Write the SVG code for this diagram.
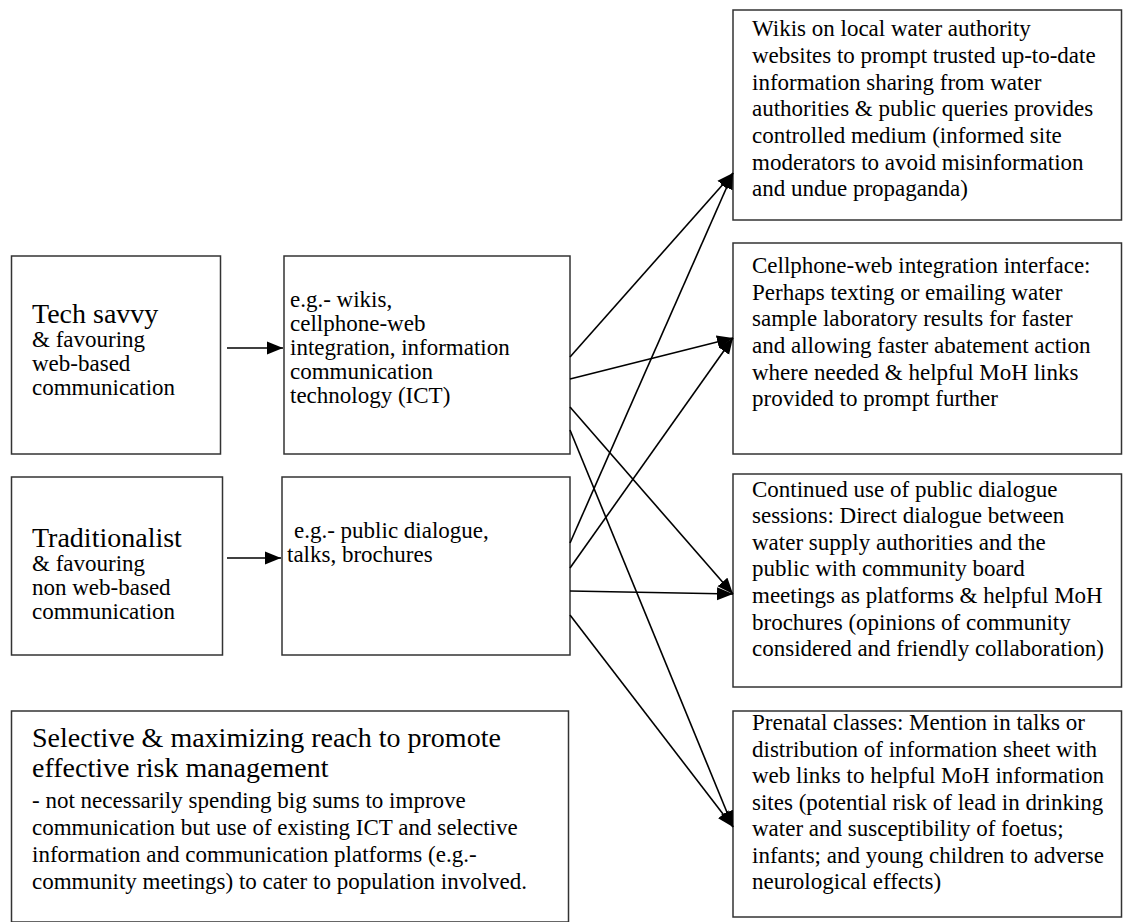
<svg xmlns="http://www.w3.org/2000/svg" width="1123" height="922" viewBox="0 0 1123 922">
<style>
.box{fill:#fff;stroke:#333;stroke-width:1.5}
text{font-family:"Liberation Serif","Times New Roman",serif;fill:#000;font-size:23px}
.big{font-size:28px}
.con{stroke:#000;stroke-width:1.6;fill:none;marker-end:url(#ah)}
</style>
<defs>
<marker id="ah" markerUnits="userSpaceOnUse" markerWidth="18" markerHeight="14" refX="16" refY="7" orient="auto">
<path d="M0,0.5 L16,7 L0,13.5 z" fill="#000"/>
</marker>
</defs>
<rect width="1123" height="922" fill="#fff"/>
<g id="tech">
<rect class="box" x="11.5" y="256" width="209" height="198"/>
<text class="big" x="32" y="323">Tech savvy</text>
<text x="32" y="347">&amp; favouring</text>
<text x="32" y="371">web-based</text>
<text x="32" y="395">communication</text>
</g>
<g id="trad">
<rect class="box" x="11.5" y="477" width="211" height="178"/>
<text class="big" x="32" y="547">Traditionalist</text>
<text x="32" y="571">&amp; favouring</text>
<text x="32" y="595">non web-based</text>
<text x="32" y="619">communication</text>
</g>
<g id="webtools">
<rect class="box" x="284" y="256" width="286" height="198"/>
<text x="290" y="307">e.g.- wikis,</text>
<text x="290" y="331">cellphone-web</text>
<text x="290" y="355">integration, information</text>
<text x="290" y="379">communication</text>
<text x="290" y="403">technology (ICT)</text>
</g>
<g id="tradtools">
<rect class="box" x="282" y="477" width="288" height="178"/>
<text x="294" y="538">e.g.- public dialogue,</text>
<text x="287" y="562">talks, brochures</text>
</g>
<g id="selective">
<rect class="box" x="11.5" y="711" width="557" height="211"/>
<text class="big" x="32" y="747">Selective &amp; maximizing reach to promote</text>
<text class="big" x="32" y="777">effective risk management</text>
<text x="32" y="808">- not necessarily spending big sums to improve</text>
<text x="32" y="835">communication but use of existing ICT and selective</text>
<text x="32" y="862">information and communication platforms (e.g.-</text>
<text x="32" y="889">community meetings) to cater to population involved.</text>
</g>
<g id="wikis">
<rect class="box" x="733" y="10" width="388.5" height="210"/>
<text x="752" y="36">Wikis on local water authority</text>
<text x="752" y="63">websites to prompt trusted up-to-date</text>
<text x="752" y="90">information sharing from water</text>
<text x="752" y="116">authorities &amp; public queries provides</text>
<text x="752" y="143">controlled medium (informed site</text>
<text x="752" y="170">moderators to avoid misinformation</text>
<text x="752" y="196">and undue propaganda)</text>
</g>
<g id="cellphone">
<rect class="box" x="733" y="243" width="388.5" height="211"/>
<text x="752" y="273">Cellphone-web integration interface:</text>
<text x="752" y="300">Perhaps texting or emailing water</text>
<text x="752" y="326">sample laboratory results for faster</text>
<text x="752" y="353">and allowing faster abatement action</text>
<text x="752" y="380">where needed &amp; helpful MoH links</text>
<text x="752" y="406">provided to prompt further</text>
</g>
<g id="dialogue">
<rect class="box" x="733" y="474" width="388.5" height="213"/>
<text x="752" y="497">Continued use of public dialogue</text>
<text x="752" y="523">sessions: Direct dialogue between</text>
<text x="752" y="550">water supply authorities and the</text>
<text x="752" y="576">public with community board</text>
<text x="752" y="603">meetings as platforms &amp; helpful MoH</text>
<text x="752" y="630">brochures (opinions of community</text>
<text x="752" y="656">considered and friendly collaboration)</text>
</g>
<g id="prenatal">
<rect class="box" x="733" y="711" width="388.5" height="206"/>
<text x="752" y="730">Prenatal classes: Mention in talks or</text>
<text x="752" y="757">distribution of information sheet with</text>
<text x="752" y="783">web links to helpful MoH information</text>
<text x="752" y="810">sites (potential risk of lead in drinking</text>
<text x="752" y="836">water and susceptibility of foetus;</text>
<text x="752" y="863">infants; and young children to adverse</text>
<text x="752" y="889">neurological effects)</text>
</g>
<g id="connectors">
<line class="con" x1="227" y1="348" x2="283" y2="348"/>
<line class="con" x1="227" y1="558" x2="281" y2="558"/>
<line class="con" x1="570" y1="357" x2="733" y2="173"/>
<line class="con" x1="570" y1="543" x2="733" y2="173"/>
<line class="con" x1="570" y1="379" x2="733" y2="338"/>
<line class="con" x1="570" y1="568" x2="733" y2="338"/>
<line class="con" x1="570" y1="407" x2="733" y2="594"/>
<line class="con" x1="570" y1="591" x2="733" y2="594"/>
<line class="con" x1="570" y1="430" x2="733" y2="827"/>
<line class="con" x1="570" y1="615" x2="733" y2="827"/>
</g>
</svg>
